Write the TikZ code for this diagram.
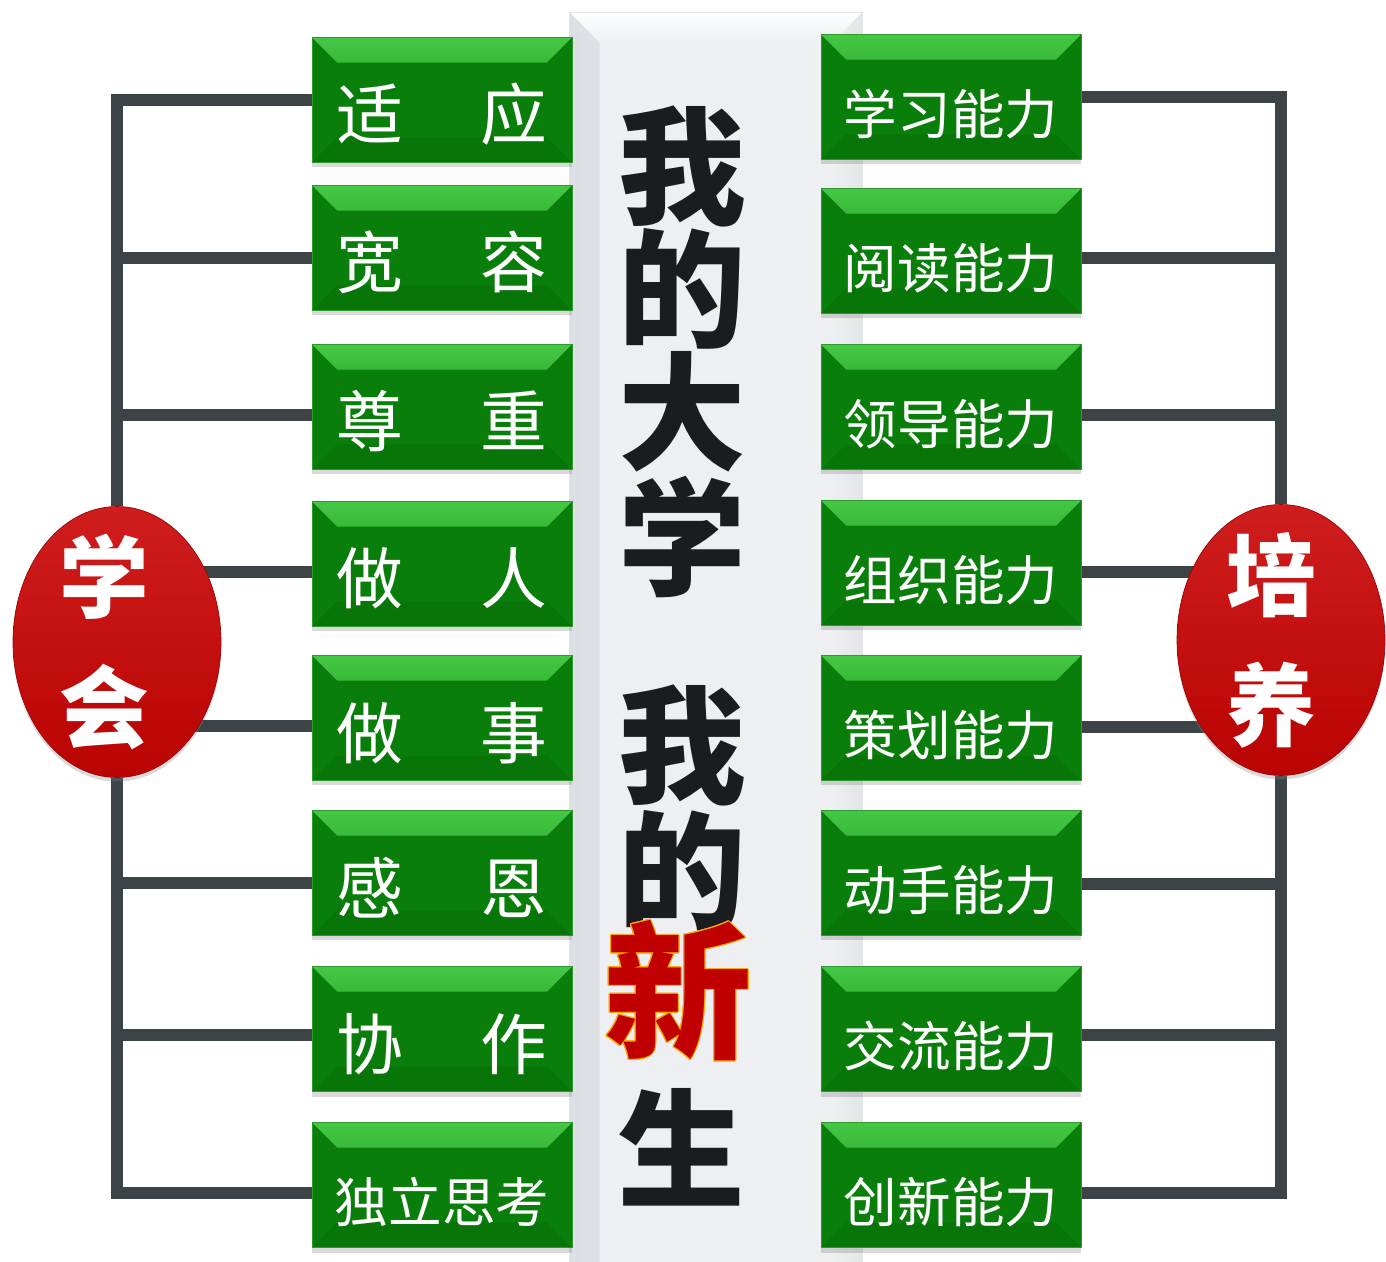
\documentclass[tikz,border=0pt]{standalone}
\usepackage{fontspec}
\usepackage{contour}
\newfontfamily\cjk{Noto Sans CJK SC}
\usetikzlibrary{shapes.geometric,shadows,backgrounds}
\definecolor{wirec}{HTML}{3B4347}
\definecolor{gbase}{HTML}{0A7E0A}
\definecolor{gtop}{HTML}{45C845}
\definecolor{gdark}{HTML}{087508}
\definecolor{gedge}{HTML}{2E9A2E}
\definecolor{colbg}{HTML}{EDEFF2}
\definecolor{colside}{HTML}{DCDFE3}
\definecolor{ink}{HTML}{1A1D1F}
\definecolor{xred}{HTML}{C00000}
\definecolor{eggtop}{HTML}{CF1D1D}
\definecolor{eggmid}{HTML}{C10909}
\definecolor{eggbot}{HTML}{BA0303}
\contourlength{0.6pt}
\begin{document}
\begin{tikzpicture}[x=0.02cm,y=-0.02cm,
    wire/.style={draw=wirec,line width=0.24cm},
    card/.style={rectangle,fill=gbase,draw=gedge,minimum width=5.2cm,minimum height=2.5cm,
      inner sep=0pt,text=white,text height=1.6cm,text depth=0pt,
      font=\cjk\fontsize{38}{38}\selectfont,
      drop shadow={shadow xshift=0pt,shadow yshift=-0.1cm,opacity=0.3},
      path picture={
        \fill[top color=gtop,bottom color=gbase] (path picture bounding box.north west)
          -- (path picture bounding box.north east) -- ([shift={(-0.5cm,-0.5cm)}]path picture bounding box.north east)
          -- ([shift={(0.5cm,-0.5cm)}]path picture bounding box.north west) -- cycle;
        \fill[gdark] (path picture bounding box.south west)
          -- (path picture bounding box.south east) -- ([shift={(-0.5cm,0.5cm)}]path picture bounding box.south east)
          -- ([shift={(0.5cm,0.5cm)}]path picture bounding box.south west) -- cycle;}},
    wide/.style={card,text height=1.5cm,font=\cjk\fontsize{30.5}{30.5}\selectfont},
    egg/.style={ellipse,minimum width=4.16cm,minimum height=5.42cm,inner xsep=0pt,inner ysep=-0.5cm,
      top color=eggtop,middle color=eggmid,bottom color=eggbot,draw=eggbot!85!black,
      drop shadow={shadow xshift=0pt,shadow yshift=-0.08cm,opacity=0.3},
      text=white,align=center,font=\cjk\bfseries\fontsize{51}{74}\selectfont},
    column/.style={rectangle,fill=colbg,draw=colside!70!colbg,minimum width=5.86cm,minimum height=25cm,
      path picture={
        \fill[left color=colside,right color=colbg] (path picture bounding box.north west)
          -- ([shift={(0.6cm,-0.6cm)}]path picture bounding box.north west)
          -- ([xshift=0.6cm]path picture bounding box.south west) -- (path picture bounding box.south west) -- cycle;
        \fill[top color=white,bottom color=colbg] (path picture bounding box.north west)
          -- (path picture bounding box.north east) -- ([shift={(-0.6cm,-0.6cm)}]path picture bounding box.north east)
          -- ([shift={(0.6cm,-0.6cm)}]path picture bounding box.north west) -- cycle;
        \fill[left color=colbg,right color=colside!60!colbg] ([xshift=-0.6cm]path picture bounding box.south east)
          -- ([shift={(-0.6cm,-0.6cm)}]path picture bounding box.north east)
          -- (path picture bounding box.north east) -- (path picture bounding box.south east) -- cycle;}},
    big/.style={inner sep=0pt,text=ink,font=\cjk\bfseries\fontsize{72.6}{72.6}\selectfont}]
  \useasboundingbox (0,0) rectangle (1386,1261);
  % middle strip
  \node[column] (col) at (716,637) {};
  % left side
  \node[card] (l1) at (442,100)  {适\hspace{1.15em}应};
  \node[card] (l2) at (442,248)  {宽\hspace{1.15em}容};
  \node[card] (l3) at (442,407)  {尊\hspace{1.15em}重};
  \node[card] (l4) at (442,564)  {做\hspace{1.15em}人};
  \node[card] (l5) at (442,718)  {做\hspace{1.15em}事};
  \node[card] (l6) at (442,873)  {感\hspace{1.15em}恩};
  \node[card] (l7) at (442,1029) {协\hspace{1.15em}作};
  \node[wide] (l8) at (442,1185) {独立思考};
  % right side
  \node[wide] (r1) at (951,97)   {学习能力};
  \node[wide] (r2) at (951,251)  {阅读能力};
  \node[wide] (r3) at (951,407)  {领导能力};
  \node[wide] (r4) at (951,563)  {组织能力};
  \node[wide] (r5) at (951,718)  {策划能力};
  \node[wide] (r6) at (951,873)  {动手能力};
  \node[wide] (r7) at (951,1029) {交流能力};
  \node[wide] (r8) at (951,1185) {创新能力};
  % the two eggs
  \node[egg] (xue)  at (117,642)  {学\hspace*{0.5cm}\\会\hspace*{0.5cm}};
  \node[egg] (yang) at (1281,640) {培\hspace*{0.4cm}\\养\hspace*{0.4cm}};
  % title
  \node[big] (t1) at (682,166)  {我};
  \node[big] (t2) at (682,289)  {的};
  \node[big] (t3) at (682,412)  {大};
  \node[big] (t4) at (682,537)  {学};
  \node[big] (t5) at (682,745)  {我};
  \node[big] (t6) at (682,871)  {的};
  \node[big,text=xred,font=\cjk\bfseries\fontsize{84}{84}\selectfont] (t7) at (678,991) {\contour{orange!70!yellow}{新}};
  \node[big] (t8) at (681,1147) {生};
  % brackets
  \begin{scope}[on background layer]
    \draw[wire] (xue.north) |- (l1.west);
    \draw[wire] (xue.north) |- ([yshift=-0.2cm]l2.west);
    \draw[wire] (xue.north) |- ([yshift=-0.16cm]l3.west);
    \draw[wire] ([yshift=-0.16cm]l4.west) -- ([yshift=-0.16cm]l4.west -| xue.center);
    \draw[wire] ([yshift=-0.16cm]l5.west) -- ([yshift=-0.16cm]l5.west -| xue.center);
    \draw[wire] (xue.south) |- ([yshift=-0.2cm]l6.west);
    \draw[wire] (xue.south) |- ([yshift=-0.12cm]l7.west);
    \draw[wire] (xue.south) |- ([yshift=-0.16cm]l8.west);
    \draw[wire] (yang.north) |- (r1.east);
    \draw[wire] (yang.north) |- ([yshift=-0.14cm]r2.east);
    \draw[wire] (yang.north) |- ([yshift=-0.16cm]r3.east);
    \draw[wire] ([yshift=-0.18cm]r4.east) -- ([yshift=-0.18cm]r4.east -| yang.center);
    \draw[wire] ([yshift=-0.18cm]r5.east) -- ([yshift=-0.18cm]r5.east -| yang.center);
    \draw[wire] (yang.south) |- ([yshift=-0.22cm]r6.east);
    \draw[wire] (yang.south) |- ([yshift=-0.12cm]r7.east);
    \draw[wire] (yang.south) |- ([yshift=-0.16cm]r8.east);
  \end{scope}
\end{tikzpicture}
\end{document}
